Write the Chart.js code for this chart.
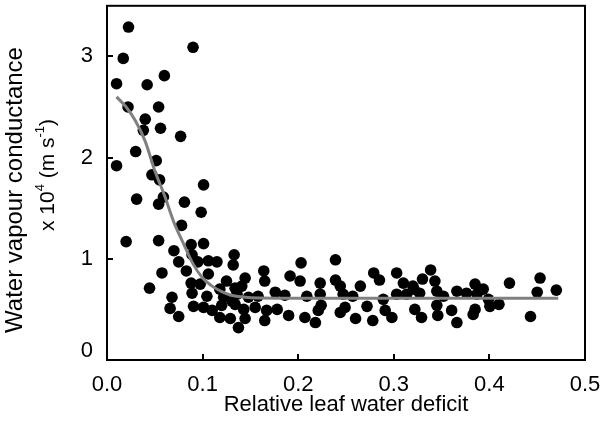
<!DOCTYPE html>
<html>
<head>
<meta charset="utf-8">
<script src="https://cdn.jsdelivr.net/npm/chart.js@4.4.1/dist/chart.umd.min.js"></script>
<style>
  html, body { margin: 0; padding: 0; background: #fff; }
  #wrap { width: 600px; height: 433px; }
</style>
</head>
<body>
<div id="wrap"><canvas id="chart"></canvas></div>
<script>
// measured points: relative leaf water deficit vs conductance
const deficit = [
  0.0225, 0.090, 0.017, 0.060, 0.010, 0.042, 0.022, 0.054, 0.040, 0.038,
  0.056, 0.077, 0.030, 0.0515, 0.010, 0.047, 0.055, 0.101, 0.031, 0.059,
  0.054, 0.081, 0.0985, 0.078, 0.020, 0.054, 0.070, 0.088, 0.101, 0.075,
  0.089, 0.095, 0.106, 0.115, 0.133, 0.132, 0.0575, 0.083, 0.106, 0.0445,
  0.088, 0.0975, 0.125, 0.118, 0.134, 0.068, 0.089, 0.1045, 0.122, 0.066,
  0.0905, 0.101, 0.110, 0.120, 0.075, 0.118, 0.129, 0.1375, 0.131, 0.164,
  0.165, 0.203, 0.1915, 0.202, 0.223, 0.1445, 0.141, 0.136, 0.148, 0.158,
  0.176, 0.186, 0.209, 0.223, 0.134, 0.143, 0.155, 0.167, 0.178, 0.165,
  0.1445, 0.190, 0.207, 0.221, 0.218, 0.224, 0.239, 0.239, 0.244, 0.265,
  0.279, 0.285, 0.303, 0.310, 0.320, 0.247, 0.257, 0.289, 0.303, 0.3135,
  0.249, 0.272, 0.291, 0.322, 0.244, 0.260, 0.278, 0.298, 0.3385, 0.330,
  0.343, 0.321, 0.327, 0.345, 0.352, 0.366, 0.376, 0.385, 0.3935, 0.387,
  0.399, 0.410, 0.421, 0.345, 0.3605, 0.385, 0.4005, 0.329, 0.346, 0.383,
  0.366, 0.453, 0.450, 0.470, 0.443
];
const conductance = [
  3.29, 3.09, 2.98, 2.81, 2.73, 2.72, 2.50, 2.50, 2.38, 2.27,
  2.29, 2.21, 2.06, 1.97, 1.92, 1.83, 1.78, 1.73, 1.59, 1.61,
  1.54, 1.56, 1.46, 1.33, 1.17, 1.18, 1.08, 1.14, 1.15, 0.97,
  1.04, 0.97, 0.98, 0.97, 1.04, 0.94, 0.86, 0.88, 0.85, 0.71,
  0.76, 0.75, 0.78, 0.70, 0.71, 0.62, 0.66, 0.63, 0.62, 0.51,
  0.53, 0.52, 0.49, 0.54, 0.43, 0.42, 0.41, 0.32, 0.58, 0.88,
  0.78, 0.96, 0.83, 0.78, 0.76, 0.81, 0.73, 0.65, 0.62, 0.63,
  0.67, 0.64, 0.63, 0.65, 0.55, 0.50, 0.52, 0.49, 0.50, 0.39,
  0.41, 0.44, 0.42, 0.49, 0.37, 0.54, 0.99, 0.79, 0.73, 0.73,
  0.86, 0.79, 0.86, 0.76, 0.73, 0.65, 0.63, 0.60, 0.65, 0.65,
  0.52, 0.53, 0.49, 0.50, 0.47, 0.41, 0.39, 0.42, 0.89, 0.80,
  0.78, 0.70, 0.66, 0.68, 0.63, 0.68, 0.66, 0.75, 0.70, 0.65,
  0.60, 0.55, 0.76, 0.54, 0.49, 0.50, 0.53, 0.42, 0.44, 0.45,
  0.37, 0.81, 0.67, 0.69, 0.43
];

// fitted curve
const fitX = [0.01, 0.02, 0.03, 0.04, 0.05, 0.06, 0.07, 0.08, 0.09, 0.10, 0.11, 0.12, 0.13, 0.14, 0.16, 0.20, 0.30, 0.40, 0.472];
const fitY = [2.60, 2.50, 2.36, 2.16, 1.87, 1.63, 1.36, 1.15, 0.95, 0.81, 0.73, 0.675, 0.64, 0.625, 0.612, 0.61, 0.61, 0.61, 0.61];

const xTicks = [0, 0.1, 0.2, 0.3, 0.4, 0.5];
const yTicks = [0, 1, 2, 3];

const FONT = "'Liberation Sans', Arial, sans-serif";

const points = deficit.map((x, i) => ({ x: x, y: conductance[i] }));
const fitLine = fitX.map((x, i) => ({ x: x, y: fitY[i] }));

const frameAndTitles = {
    id: 'frameAndTitles',
    afterDraw(chart) {
        const ctx = chart.ctx;
        const area = chart.chartArea;
        const xs = chart.scales.x;
        const ys = chart.scales.y;

        ctx.save();
        ctx.strokeStyle = '#000';
        ctx.lineWidth = 2;
        ctx.strokeRect(area.left, area.top, area.right - area.left, area.bottom - area.top);

        // inward tick marks
        ctx.beginPath();
        xTicks.forEach(v => {
            const px = Math.round(xs.getPixelForValue(v));
            ctx.moveTo(px, area.bottom);
            ctx.lineTo(px, area.bottom - 6);
        });
        yTicks.forEach(v => {
            const py = Math.round(ys.getPixelForValue(v));
            ctx.moveTo(area.left, py);
            ctx.lineTo(area.left + 6, py);
        });
        ctx.stroke();

        // tick labels
        ctx.fillStyle = '#000';
        ctx.font = '22px ' + FONT;
        ctx.textAlign = 'center';
        ctx.textBaseline = 'middle';
        xTicks.forEach(v => {
            ctx.fillText(v.toFixed(1), xs.getPixelForValue(v), area.bottom + 25);
        });
        ctx.textAlign = 'right';
        yTicks.forEach(v => {
            const py = ys.getPixelForValue(v) - (v === 0 ? 9 : 0);
            ctx.fillText(String(v), area.left - 14, py);
        });

        // x title
        ctx.textAlign = 'center';
        ctx.fillText('Relative leaf water deficit', (area.left + area.right) / 2, 405);

        // y title, two lines with superscripts
        ctx.font = '24px ' + FONT;
        ctx.translate(15, 190);
        ctx.rotate(-Math.PI / 2);
        ctx.fillText('Water vapour conductance', 0, 0);
        ctx.setTransform(1, 0, 0, 1, 0, 0);

        const parts = [
            { t: 'x 10', sup: false },
            { t: '4', sup: true },
            { t: ' (m s', sup: false },
            { t: '-1', sup: true },
            { t: ')', sup: false }
        ];
        const big = '21px ' + FONT;
        const small = '13px ' + FONT;
        let total = 0;
        parts.forEach(p => {
            ctx.font = p.sup ? small : big;
            p.w = ctx.measureText(p.t).width;
            total += p.w;
        });
        ctx.translate(48, 175);
        ctx.rotate(-Math.PI / 2);
        ctx.textAlign = 'left';
        let cx = -total / 2;
        parts.forEach(p => {
            ctx.font = p.sup ? small : big;
            ctx.fillText(p.t, cx, p.sup ? -8 : 0);
            cx += p.w;
        });
        ctx.restore();
    }
};

new Chart(document.getElementById('chart'), {
    type: 'scatter',
    data: {
        datasets: [
            {
                data: fitLine,
                showLine: true,
                borderColor: '#808080',
                borderWidth: 3,
                pointRadius: 0,
                cubicInterpolationMode: 'monotone',
                order: 0
            },
            {
                data: points,
                backgroundColor: '#000',
                borderColor: '#000',
                pointRadius: 5.8,
                borderWidth: 0,
                order: 1
            }
        ]
    },
    options: {
        responsive: true,
        maintainAspectRatio: false,
        animation: false,
        layout: {
            padding: { left: 0, right: 15, top: 2, bottom: 0 }
        },
        plugins: {
            legend: { display: false },
            tooltip: { enabled: false }
        },
        scales: {
            x: {
                min: 0,
                max: 0.5,
                afterBuildTicks: scale => { scale.ticks = xTicks.map(v => ({ value: v })); },
                afterFit: scale => {
                    scale.height = 73;
                    scale.paddingLeft = 0;
                    scale.paddingRight = 0;
                },
                grid: { display: false, drawTicks: false },
                border: { display: false },
                ticks: { display: false }
            },
            y: {
                min: 0,
                max: 3.5,
                afterBuildTicks: scale => { scale.ticks = yTicks.map(v => ({ value: v })); },
                afterFit: scale => {
                    scale.width = 107;
                    scale.paddingTop = 0;
                    scale.paddingBottom = 0;
                },
                grid: { display: false, drawTicks: false },
                border: { display: false },
                ticks: { display: false }
            }
        }
    },
    plugins: [frameAndTitles]
});
</script>
</body>
</html>
